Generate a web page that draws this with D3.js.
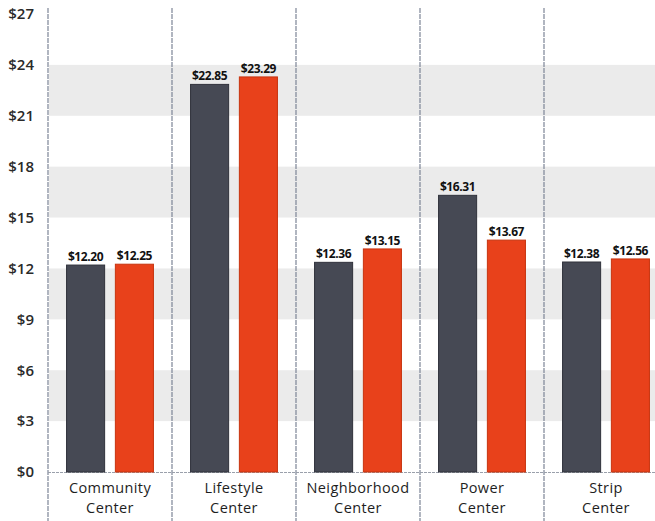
<!DOCTYPE html>
<html><head><meta charset="utf-8">
<script src="https://cdn.jsdelivr.net/npm/d3@7/dist/d3.min.js"></script>
<style>body{margin:0;background:#fff}svg{display:block}</style>
</head><body>
<svg id="c" width="655" height="521"></svg>
<script>
const categories = [["Community","Center"],["Lifestyle","Center"],["Neighborhood","Center"],["Power","Center"],["Strip","Center"]];
const series1 = [12.20, 22.85, 12.36, 16.31, 12.38];
const series2 = [12.25, 23.29, 13.15, 13.67, 12.56];
const tickValues = [0,3,6,9,12,15,18,21,24,27];
const bands = [[3,6],[9,12],[15,18],[21,24]];

const svg = d3.select("#c");
const mLeft = 48, plotRight = 668, mTop = 14, mBottom = 472;
const x = d3.scaleBand().domain(d3.range(categories.length)).range([mLeft, plotRight]);
const y = d3.scaleLinear().domain([0,27]).range([mBottom, mTop]);
const inner = d3.scaleBand().domain([0,1]).range([0, x.bandwidth()]).paddingInner(0.22).paddingOuter(0.38);

svg.append("g").selectAll("rect").data(bands).join("rect")
  .attr("x", mLeft+1).attr("width", plotRight-mLeft)
  .attr("y", d=>y(d[1])).attr("height", d=>y(d[0])-y(d[1]))
  .attr("fill", "#ebebeb");

svg.append("g").selectAll("line").data(d3.range(categories.length+1)).join("line")
  .attr("x1", i=>mLeft + i*x.step()).attr("x2", i=>mLeft + i*x.step())
  .attr("y1", 8).attr("y2", 521)
  .attr("stroke", "#7d8597").attr("stroke-width", 1.2).attr("stroke-dasharray","5,1");

svg.append("line").attr("x1", mLeft).attr("x2", 655).attr("y1", mBottom+0.5).attr("y2", mBottom+0.5)
  .attr("stroke", "#9aa0ab").attr("stroke-width", 1.2).attr("stroke-dasharray","3,1");

const yAxis = svg.append("g").attr("transform", `translate(${mLeft},0)`)
  .call(d3.axisLeft(y).tickValues(tickValues).tickFormat(d=>"$"+d).tickSize(0).tickPadding(14));
yAxis.select(".domain").remove();
yAxis.selectAll("text").attr("font-family","Open Sans").attr("font-size","15px").attr("font-weight","600").attr("fill","#2a2a2a");

const colors = ["#464954", "#e8411b"];
const strokes = ["#30323b", "#c7340f"];
[series1, series2].forEach((s, k) => {
  const g = svg.append("g");
  g.selectAll("rect").data(s).join("rect")
    .attr("x", (d,i)=>x(i)+inner(k)).attr("width", inner.bandwidth())
    .attr("y", d=>y(d)).attr("height", d=>mBottom-y(d))
    .attr("fill", colors[k]).attr("stroke", strokes[k]).attr("stroke-width", 1);
  g.selectAll("text").data(s).join("text")
    .attr("x", (d,i)=>x(i)+inner(k)+inner.bandwidth()/2).attr("y", d=>y(d)-4)
    .attr("text-anchor","middle").attr("font-family","Open Sans").attr("font-weight","bold")
    .attr("font-size","12px").attr("fill","#111").attr("letter-spacing","-0.4")
    .text(d=>"$"+d.toFixed(2));
});

const xl = svg.append("g").selectAll("text").data(categories).join("text")
  .attr("x",(d,i)=>x(i)+x.bandwidth()/2).attr("y", 493)
  .attr("text-anchor","middle").attr("font-family","Open Sans").attr("font-size","14.5px")
  .attr("font-weight","500").attr("fill","#1e1e1e").attr("letter-spacing","0.4");
xl.append("tspan").attr("x",(d,i)=>x(i)+x.bandwidth()/2).attr("dy",0).text(d=>d[0]);
xl.append("tspan").attr("x",(d,i)=>x(i)+x.bandwidth()/2).attr("dy",20).text(d=>d[1]);
</script>
</body></html>
